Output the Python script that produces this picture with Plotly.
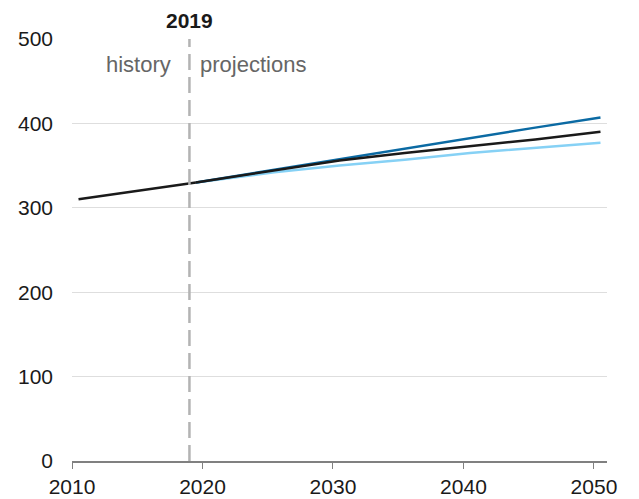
import plotly.graph_objects as go

# history and projections
hist_years = [2010, 2013, 2016, 2019]
hist_vals = [310, 316.5, 323, 330]

proj_years = [2019, 2025, 2030, 2035, 2040, 2045, 2050]
high_vals = [330, 345, 358, 370, 383, 395, 407]
ref_vals = [330, 344, 356, 365, 373, 381, 390]
low_vals = [330, 342, 350, 357, 365, 371, 377]

x_ticks = [2010, 2020, 2030, 2040, 2050]
y_ticks = [0, 100, 200, 300, 400, 500]

divider_year = 2019

# values are annual, drawn at mid-year
def mid(years):
    return [y + 0.5 for y in years]

fig = go.Figure()

fig.add_trace(go.Scatter(x=mid(proj_years), y=low_vals, mode="lines",
                         line=dict(color="#86d1f5", width=2.5)))
fig.add_trace(go.Scatter(x=mid(proj_years), y=high_vals, mode="lines",
                         line=dict(color="#0b6aa3", width=2.5)))
fig.add_trace(go.Scatter(x=mid(proj_years), y=ref_vals, mode="lines",
                         line=dict(color="#1a1a1a", width=2.5)))
fig.add_trace(go.Scatter(x=mid(hist_years), y=hist_vals, mode="lines",
                         line=dict(color="#1a1a1a", width=2.5)))

# history / projections divider
fig.add_shape(type="line", x0=divider_year, x1=divider_year, y0=0, y1=500,
              xref="x", yref="y",
              line=dict(color="#b3b3b3", width=2.5, dash="16px,7px"))

fig.add_annotation(x=divider_year, y=1, xref="x", yref="paper",
                   yshift=31, text="<b>2019</b>", showarrow=False,
                   borderpad=0,
                   font=dict(size=21, color="#1a1a1a"))
fig.add_annotation(x=divider_year, y=470, xref="x", yref="y",
                   xshift=-16, text="history", showarrow=False, xanchor="right",
                   font=dict(size=22, color="#666666"))
fig.add_annotation(x=divider_year, y=470, xref="x", yref="y",
                   xshift=9, text="projections", showarrow=False, xanchor="left",
                   font=dict(size=22, color="#666666"))

# page body has an 8px margin, so the figure is shrunk to fit the window
fig.update_layout(
    width=631, height=491,
    margin=dict(l=64, r=32, t=31, b=38),
    showlegend=False,
    plot_bgcolor="white",
    paper_bgcolor="white",
    font=dict(family="Liberation Sans, Arial", size=21, color="#1a1a1a"),
    xaxis=dict(range=[2010, 2051], tickvals=x_ticks, showgrid=False,
               zeroline=False, showline=True, linecolor="#808080", linewidth=2,
               ticks="outside", ticklen=6, tickcolor="#808080", tickwidth=1,
               automargin=False),
    yaxis=dict(range=[0, 500], tickvals=y_ticks, showgrid=True,
               gridcolor="#dedede", gridwidth=1, zeroline=False,
               showline=False, ticks="", ticklabelstandoff=18,
               automargin=False),
)

fig.write_html("out.html")
